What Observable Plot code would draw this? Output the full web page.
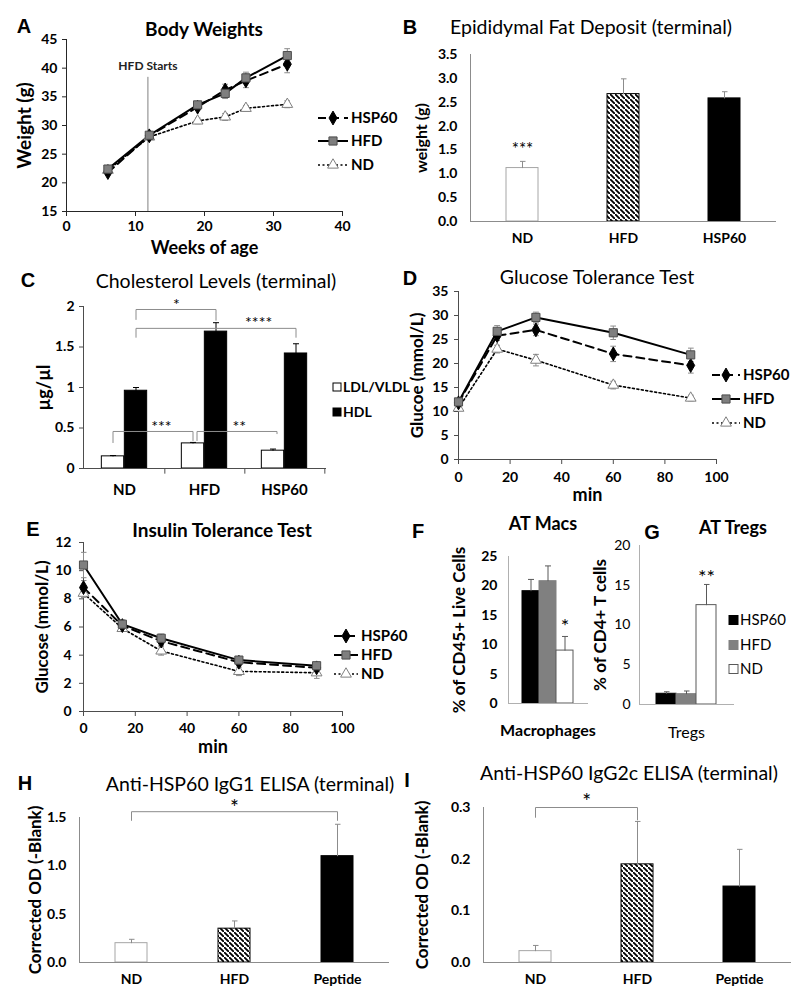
<!DOCTYPE html>
<html><head><meta charset="utf-8">
<script src="https://cdn.jsdelivr.net/npm/d3@7"></script>
<script src="https://cdn.jsdelivr.net/npm/@observablehq/plot@0.6"></script>
<style>
body{margin:0;background:#fff;}
#root{position:relative;width:800px;height:1007px;overflow:hidden;background:#fff;font-family:Lato,"Open Sans","DejaVu Sans",sans-serif;}
.t{position:absolute;white-space:nowrap;transform:translate(-50%,-50%);line-height:1;color:#000;}
.letter{font-family:"Liberation Sans",Arial,sans-serif;font-weight:bold;font-size:20px;}
</style></head><body>
<svg width="0" height="0" style="position:absolute"><defs>
<pattern id="hatch" patternUnits="userSpaceOnUse" width="5" height="5">
<rect width="5" height="5" fill="#fff"/>
<path d="M-1,-1 l2,2 M0,0 l5,5 M4,4 l2,2" stroke="#000" stroke-width="1.8"/>
</pattern></defs></svg>
<div id="root"></div>
<script>
// ---------------- DATA ----------------
// A: body weights
const weeks = [6, 12, 19, 23, 26, 32];
const bwHSP60 = [21.8, 28.2, 33.2, 36.2, 37.8, 40.7];
const bwHSP60Err = [0.3, 0.4, 0.5, 1.0, 1.2, 1.5];
const bwHFD = [22.4, 28.3, 33.6, 35.6, 38.3, 42.2];
const bwHFDErr = [0.3, 0.3, 0.5, 0.9, 1.0, 1.2];
const bwND = [22.2, 28.0, 30.8, 31.5, 33.0, 33.7];
const bwNDErr = [0.3, 0.3, 0.5, 0.6, 0.5, 0.6];
const hfdStart = {week: 11.8, lineTop: 38.4, labelY: 40.3, label: "HFD Starts"};
// B: epididymal fat
const dietGroups = ["ND", "HFD", "HSP60"];
const fatMean = [1.12, 2.67, 2.58];
const fatErr = [0.14, 0.32, 0.14];
const fatStars = [{g: "ND", label: "***"}];
// C: cholesterol
const cholGroups = ["ND", "HFD", "HSP60"];
const ldl = [0.15, 0.31, 0.22];
const ldlErr = [0.01, 0.012, 0.02];
const hdl = [0.96, 1.69, 1.42];
const hdlErr = [0.04, 0.11, 0.12];
const cholBrackets = [
  {from: "ND", to: "HFD", series: "HDL", top: 1.963, legFrom: 1.84, legTo: 1.83, label: "*"},
  {from: "ND", to: "HSP60", series: "HDL", top: 1.73, legFrom: 1.62, legTo: 1.62, label: "****"},
  {from: "ND", to: "HFD", series: "LDL", top: 0.457, legFrom: 0.32, legTo: 0.345, label: "***"},
  {from: "HFD", to: "HSP60", series: "LDL", top: 0.457, legFrom: 0.345, legTo: 0.43, label: "**"}
];
// D: glucose tolerance test
const gttMin = [0, 15, 30, 60, 90];
const gttHSP60 = [11.8, 25.8, 27.0, 22.0, 19.6];
const gttHSP60Err = [0.6, 1.0, 1.2, 1.6, 1.6];
const gttHFD = [12.0, 26.7, 29.6, 26.4, 21.8];
const gttHFDErr = [0.5, 1.2, 1.1, 1.4, 1.4];
const gttND = [10.7, 23.0, 20.7, 15.5, 12.8];
const gttNDErr = [0.5, 0.8, 1.2, 0.8, 0.6];
// E: insulin tolerance test
const ittMin = [0, 15, 30, 60, 90];
const ittHSP60 = [8.8, 6.1, 5.0, 3.5, 3.1];
const ittHSP60Err = [0.5, 0.3, 0.3, 0.2, 0.2];
const ittHFD = [10.4, 6.2, 5.2, 3.65, 3.25];
const ittHFDErr = [0.9, 0.3, 0.3, 0.2, 0.2];
const ittND = [8.4, 5.9, 4.3, 2.85, 2.75];
const ittNDErr = [0.3, 0.2, 0.3, 0.3, 0.4];
// F, G: adipose tissue cells
const cellGroups = ["HSP60", "HFD", "ND"];
const macs = [19.1, 20.8, 9.0];
const macsErr = [2.0, 2.6, 2.4];
const macsStars = [{g: "ND", label: "*"}];
const tregs = [1.35, 1.3, 12.5];
const tregsErr = [0.25, 0.4, 2.6];
const tregsStars = [{g: "ND", label: "**"}];
// H, I: ELISA
const elisaGroups = ["ND", "HFD", "Peptide"];
const igg1 = [0.20, 0.35, 1.10];
const igg1Err = [0.04, 0.08, 0.33];
const igg1Bracket = {from: "ND", to: "Peptide", top: 1.56, legFrom: 1.47, legTo: 1.47, label: "*"};
const igg2c = [0.022, 0.19, 0.147];
const igg2cErr = [0.011, 0.083, 0.072];
const igg2cBracket = {from: "ND", to: "HFD", top: 0.3, legFrom: 0.281, legTo: 0.276, label: "*"};

// ---------------- STYLE ----------------
const FONT = "Lato, 'Open Sans', 'DejaVu Sans', sans-serif";
const AX_DARK = "#4d4d4d";
const AX_GRAY = "#8c8c8c";
const ERR = "#8c8c8c";
const STY = {
  HSP60: {dash: "8,5", width: 2, symbol: "diamond", r: 4.2, fill: "#000", stroke: "#000"},
  HFD: {dash: null, width: 2, symbol: "square", r: 4.6, fill: "#7f7f7f", stroke: "#4d4d4d"},
  ND: {dash: "2,2.5", width: 1.6, symbol: "triangle", r: 4, fill: "#fff", stroke: "#7f7f7f"}
};
const SYMS = {HSP60: d3.symbolDiamond, HFD: d3.symbolSquare, ND: d3.symbolTriangle};
const DIET_FILL = {ND: "#fff", HFD: "url(#hatch)", HSP60: "#000", Peptide: "#000"};
const DIET_STROKE = {ND: "#a6a6a6", HFD: "#000", HSP60: "#000", Peptide: "#000"};
const CELL_FILL = {HSP60: "#000", HFD: "#808080", ND: "#fff"};
const CELL_STROKE = {HSP60: "#000", HFD: "#808080", ND: "#595959"};

const root = document.getElementById("root");

function makePlot(frame, opts, pad = [30, 40, 70, 90]) {
  const [x0, x1, y0, y1] = frame;
  const [mt, mr, mb, ml] = pad;
  const svg = Plot.plot({
    width: x1 - x0 + ml + mr,
    height: y1 - y0 + mt + mb,
    marginTop: mt, marginRight: mr, marginBottom: mb, marginLeft: ml,
    style: {background: "transparent", fontFamily: FONT, overflow: "visible", color: "#000"},
    ...opts
  });
  svg.style.position = "absolute";
  svg.style.left = (x0 - ml) + "px";
  svg.style.top = (y0 - mt) + "px";
  root.appendChild(svg);
  return svg;
}
function yTicksAxis(ticks, o = {}) {
  return Plot.axisY({ticks, tickSize: 4, tickPadding: 5, fontSize: 14, fontWeight: "bold", label: null, stroke: AX_DARK, fill: "#000", ...o});
}
function xTicksAxis(o = {}) {
  return Plot.axisX({tickSize: 5, tickPadding: 7, fontSize: 14, fontWeight: "bold", label: null, stroke: AX_DARK, fill: "#000", ...o});
}
function yLabelAxis(label, offset, o = {}) {
  return Plot.axisY({ticks: [], tickSize: 0, label, labelAnchor: "center", labelOffset: offset, labelArrow: "none", fontSize: 17, fontWeight: "bold", fill: "#000", ...o});
}
function xLabelAxis(label, offset, o = {}) {
  return Plot.axisX({ticks: [], tickSize: 0, label, labelAnchor: "center", labelOffset: offset, labelArrow: "none", fontSize: 18, fontWeight: "bold", fill: "#000", ...o});
}

// ---------- line panels ----------
function linePanel(p) {
  const rows = p.series.flatMap(s => p.xs.map((x, i) => ({series: s.name, x, y: s.values[i], err: s.err[i]})));
  const order = ["ND", "HSP60", "HFD"];
  const marks = [
    Plot.ruleX([p.xDomain[0]], {stroke: p.axis}),
    Plot.ruleY([p.yDomain[0]], {stroke: p.axis}),
    ...(p.extra || [])
  ];
  for (const n of order) {
    const r = rows.filter(d => d.series === n);
    marks.push(Plot.link(r, {x1: "x", x2: "x", y1: d => d.y - d.err, y2: d => d.y + d.err,
      stroke: ERR, strokeWidth: 1, markerStart: "tick", markerEnd: "tick"}));
  }
  for (const n of order) {
    const st = STY[n];
    const r = rows.filter(d => d.series === n);
    const o = {x: "x", y: "y", stroke: "#000", strokeWidth: st.width};
    if (st.dash) o.strokeDasharray = st.dash;
    marks.push(Plot.line(r, o));
  }
  for (const n of order) {
    const st = STY[n];
    const r = rows.filter(d => d.series === n);
    marks.push(Plot.dot(r, {x: "x", y: "y", symbol: st.symbol, r: st.r, fill: st.fill, stroke: st.stroke, strokeWidth: 1}));
  }
  marks.push(
    xTicksAxis({ticks: p.xTicks, tickPadding: p.xPad ?? 7, stroke: p.axis}),
    xLabelAxis(p.xLabel, p.xLabelOffset, {fontSize: p.xLabelSize ?? 18}),
    yTicksAxis(p.yTicks, {tickPadding: p.yPad ?? 5, stroke: p.axis}),
    yLabelAxis(p.yLabel, p.yLabelOffset, {fontSize: p.yLabelSize ?? 17})
  );
  makePlot(p.frame, {x: {domain: p.xDomain}, y: {domain: p.yDomain}, marks});
}

// A
linePanel({
  frame: [66, 342, 39, 211],
  xs: weeks,
  series: [
    {name: "HSP60", values: bwHSP60, err: bwHSP60Err},
    {name: "HFD", values: bwHFD, err: bwHFDErr},
    {name: "ND", values: bwND, err: bwNDErr}
  ],
  xDomain: [0, 40], yDomain: [15, 45],
  xTicks: [0, 10, 20, 30, 40], yTicks: [15, 20, 25, 30, 35, 40, 45],
  xLabel: "Weeks of age", xLabelOffset: 42, xLabelSize: 18, xPad: 5,
  yLabel: "Weight (g)", yLabelOffset: 49, yLabelSize: 19,
  axis: "#262626",
  extra: [
    Plot.ruleX([hfdStart], {x: "week", y1: 15, y2: "lineTop", stroke: "#808080", strokeWidth: 1}),
    Plot.text([hfdStart], {x: "week", y: "labelY", text: "label", fontSize: 12, fontWeight: "bold", fill: "#222"})
  ]
});

// D
linePanel({
  frame: [458, 716, 291, 459],
  xs: gttMin,
  series: [
    {name: "HSP60", values: gttHSP60, err: gttHSP60Err},
    {name: "HFD", values: gttHFD, err: gttHFDErr},
    {name: "ND", values: gttND, err: gttNDErr}
  ],
  xDomain: [0, 100], yDomain: [0, 35],
  xTicks: [0, 20, 40, 60, 80, 100], yTicks: [0, 5, 10, 15, 20, 25, 30, 35],
  xLabel: "min", xLabelOffset: 41, yLabel: "Glucoe (mmol/L)", yLabelOffset: 48,
  xPad: 8, yPad: 6, axis: AX_DARK
});

// E
linePanel({
  frame: [83, 342, 542, 711],
  xs: ittMin,
  series: [
    {name: "HSP60", values: ittHSP60, err: ittHSP60Err},
    {name: "HFD", values: ittHFD, err: ittHFDErr},
    {name: "ND", values: ittND, err: ittNDErr}
  ],
  xDomain: [0, 100], yDomain: [0, 12],
  xTicks: [0, 20, 40, 60, 80, 100], yTicks: [0, 2, 4, 6, 8, 10, 12],
  xLabel: "min", xLabelOffset: 41, yLabel: "Glucose (mmol/L)", yLabelOffset: 48,
  xPad: 7, yPad: 8, axis: AX_DARK
});

// ---------- bar helpers ----------
function barsFor(groups, vals, fills, strokes, o = {}) {
  return groups.map((g, i) => Plot.barY([{g, v: vals[i]}], {x: "g", y: "v", fill: fills[g], stroke: strokes[g], strokeWidth: 1, ...o}));
}
function errUp(groups, vals, errs, color, o = {}) {
  const rows = groups.map((g, i) => ({g, lo: vals[i], hi: vals[i] + errs[i]}));
  return Plot.link(rows, {x1: "g", x2: "g", y1: "lo", y2: "hi", stroke: color, strokeWidth: 1, markerEnd: "tick", ...o});
}
function starsFor(stars, groups, vals, errs, o = {}) {
  const rows = stars.map(s => { const i = groups.indexOf(s.g); return {g: s.g, y: vals[i] + errs[i], label: s.label}; });
  return Plot.text(rows, {x: "g", y: "y", text: "label", fontSize: 16, fill: "#000", ...o});
}
function bracketMarks(b, groups, bw, sdx = 0, o = {}) {
  const pts = [{g: b.from, y: b.legFrom}, {g: b.from, y: b.top}, {g: b.to, y: b.top}, {g: b.to, y: b.legTo}];
  const span = (groups.indexOf(b.to) - groups.indexOf(b.from)) * bw;
  return [
    Plot.line(pts, {x: "g", y: "y", stroke: "#8c8c8c", strokeWidth: 1, dx: sdx, curve: "linear"}),
    Plot.text([b], {x: "from", y: "top", text: "label", fill: "#000", dx: sdx + span / 2 + (o.shift || 0), dy: o.dy ?? -5, fontSize: o.fontSize ?? 16})
  ];
}

// B
makePlot([470, 775, 54, 221], {
  x: {domain: dietGroups, paddingInner: 0.685, paddingOuter: 0.3425},
  y: {domain: [0, 3.5]},
  marks: [
    ...barsFor(dietGroups, fatMean, DIET_FILL, DIET_STROKE),
    errUp(dietGroups, fatMean, fatErr, ERR),
    starsFor(fatStars, dietGroups, fatMean, fatErr, {dy: -12, fontSize: 17}),
    Plot.frame({anchor: "left", stroke: AX_GRAY}),
    Plot.frame({anchor: "bottom", stroke: AX_GRAY}),
    yTicksAxis([0, 0.5, 1, 1.5, 2, 2.5, 3, 3.5], {tickFormat: ".1f", tickSize: 0, tickPadding: 13}),
    yLabelAxis("weight (g)", 55, {fontSize: 16}),
    xTicksAxis({tickSize: 0, tickPadding: 12})
  ]
});

// C
{
  const frame = [83, 325, 306, 468];
  const bw = (frame[1] - frame[0]) / cholGroups.length;
  const barW = 23;
  const off = {LDL: -barW / 2, HDL: barW / 2};
  makePlot(frame, {
    x: {domain: cholGroups, padding: 0},
    y: {domain: [0, 2]},
    marks: [
      ...barsFor(cholGroups, ldl, {ND: "#fff", HFD: "#fff", HSP60: "#fff"}, {ND: "#000", HFD: "#000", HSP60: "#000"}, {insetLeft: bw / 2 - barW, insetRight: bw / 2}),
      ...barsFor(cholGroups, hdl, {ND: "#000", HFD: "#000", HSP60: "#000"}, {ND: "#000", HFD: "#000", HSP60: "#000"}, {insetLeft: bw / 2, insetRight: bw / 2 - barW}),
      errUp(cholGroups, ldl, ldlErr, "#000", {dx: off.LDL}),
      errUp(cholGroups, hdl, hdlErr, "#000", {dx: off.HDL}),
      ...cholBrackets.flatMap((b, i) => bracketMarks(b, cholGroups, bw, off[b.series] + [0, 0, 0, 4][i], {shift: [0, 42, 8, 2][i], dy: -5, fontSize: 16})),
      Plot.frame({anchor: "left", stroke: AX_DARK}),
      Plot.frame({anchor: "bottom", stroke: AX_DARK}),
      Plot.ruleX(cholGroups, {x: d => d, dx: bw / 2, y1: 0, y2: -0.07, stroke: AX_DARK}),
      yTicksAxis([0, 0.5, 1, 1.5, 2], {tickFormat: "~g", tickSize: 4, tickPadding: 5}),
      yLabelAxis("µg/µl", 46, {fontSize: 18}),
      xTicksAxis({tickSize: 0, tickPadding: 16, fontSize: 15})
    ]
  });
}

// F
makePlot([508, 587, 556, 703], {
  x: {domain: cellGroups, paddingInner: 0, paddingOuter: 0.735},
  y: {domain: [0, 25]},
  marks: [
    ...barsFor(cellGroups, macs, CELL_FILL, CELL_STROKE),
    errUp(cellGroups, macs, macsErr, "#595959"),
    starsFor(macsStars, cellGroups, macs, macsErr, {dy: -10, fontSize: 20}),
    Plot.frame({anchor: "left", stroke: "#b0b0b0"}),
    Plot.frame({anchor: "bottom", stroke: "#b0b0b0"}),
    yTicksAxis([0, 5, 10, 15, 20, 25], {tickSize: 0, tickPadding: 11}),
    yLabelAxis("% of CD45+ Live Cells", 56, {fontSize: 17}),
    xLabelAxis("Macrophages", 32, {fontSize: 16})
  ]
});

// G
makePlot([639, 733, 545, 704], {
  x: {domain: cellGroups, paddingInner: 0, paddingOuter: 0.77},
  y: {domain: [0, 20]},
  marks: [
    ...barsFor(cellGroups, tregs, CELL_FILL, CELL_STROKE),
    errUp(cellGroups, tregs, tregsErr, "#595959"),
    starsFor(tregsStars, cellGroups, tregs, tregsErr, {dy: -7, fontSize: 20}),
    Plot.frame({anchor: "left", stroke: "#b0b0b0"}),
    Plot.frame({anchor: "bottom", stroke: "#b0b0b0"}),
    yTicksAxis([0, 5, 10, 15, 20], {tickSize: 0, tickPadding: 9, fontWeight: "normal"}),
    yLabelAxis("% of CD4+ T cells", 46, {fontSize: 17}),
    xLabelAxis("Tregs", 33, {fontSize: 16, fontWeight: "normal"})
  ]
});

// H
{
  const frame = [79, 388, 817, 962];
  const step = (frame[1] - frame[0]) / elisaGroups.length;
  makePlot(frame, {
    x: {domain: elisaGroups, paddingInner: 0.69, paddingOuter: 0.345},
    y: {domain: [0, 1.5]},
    marks: [
      ...barsFor(elisaGroups, igg1, DIET_FILL, DIET_STROKE),
      errUp(elisaGroups, igg1, igg1Err, ERR),
      ...bracketMarks(igg1Bracket, elisaGroups, step, 0, {dy: -3, fontSize: 21}),
      Plot.frame({anchor: "left", stroke: AX_GRAY}),
      Plot.frame({anchor: "bottom", stroke: AX_GRAY}),
      yTicksAxis([0, 0.5, 1, 1.5], {tickFormat: ".1f", tickSize: 0, tickPadding: 13}),
      yLabelAxis("Corrected OD (-Blank)", 51, {fontSize: 17}),
      xTicksAxis({tickSize: 0, tickPadding: 12})
    ]
  });
}

// I
{
  const frame = [483, 790, 807, 962];
  const step = (frame[1] - frame[0]) / elisaGroups.length;
  makePlot(frame, {
    x: {domain: elisaGroups, paddingInner: 0.69, paddingOuter: 0.345},
    y: {domain: [0, 0.3]},
    marks: [
      ...barsFor(elisaGroups, igg2c, DIET_FILL, DIET_STROKE),
      errUp(elisaGroups, igg2c, igg2cErr, ERR),
      ...bracketMarks(igg2cBracket, elisaGroups, step, 0, {dy: -5, fontSize: 21}),
      Plot.frame({anchor: "left", stroke: AX_GRAY}),
      Plot.frame({anchor: "bottom", stroke: AX_GRAY}),
      yTicksAxis([0, 0.1, 0.2, 0.3], {tickFormat: ".1f", tickSize: 0, tickPadding: 13}),
      yLabelAxis("Corrected OD (-Blank)", 68, {fontSize: 17}),
      xTicksAxis({tickSize: 0, tickPadding: 12})
    ]
  });
}

// ---------- titles, panel letters ----------
const texts = [
  ["A", 24, 26, "letter"], ["B", 410, 27, "letter"], ["C", 28, 280, "letter"], ["D", 410, 278, "letter"],
  ["E", 33, 529, "letter"], ["F", 418, 531, "letter"], ["G", 652, 532, "letter"], ["H", 25, 783, "letter"], ["I", 407, 780, "letter"],
  ["Body Weights", 204, 28, "bold", 19],
  ["Epididymal Fat Deposit (terminal)", 591, 27, "normal", 19.5],
  ["Cholesterol Levels (terminal)", 216, 281, "normal", 19.5],
  ["Glucose Tolerance Test", 597, 277, "normal", 19.5],
  ["Insulin Tolerance Test", 222, 529, "bold", 19],
  ["AT Macs", 543, 523, "bold", 18],
  ["AT Tregs", 733, 527, "bold", 18],
  ["Anti-HSP60 IgG1 ELISA (terminal)", 250, 784, "normal", 19.5],
  ["Anti-HSP60 IgG2c ELISA (terminal)", 629, 773, "normal", 19.5]
];
for (const [s, x, y, kind, size] of texts) {
  const d = document.createElement("div");
  d.className = "t" + (kind === "letter" ? " letter" : "");
  d.textContent = s;
  d.style.left = x + "px";
  d.style.top = y + "px";
  if (kind !== "letter") { d.style.fontSize = size + "px"; d.style.fontWeight = kind; }
  root.appendChild(d);
}

// ---------- legends ----------
function lineLegend(x0, x1, tx, ys, fs) {
  return ["HSP60", "HFD", "ND"].map((n, i) => {
    const st = STY[n], y = ys[i], xm = (x0 + x1) / 2;
    const sym = d3.symbol(SYMS[n], Math.PI * st.r * st.r)();
    return `<line x1="${x0}" x2="${x1}" y1="${y}" y2="${y}" stroke="#000" stroke-width="${st.width}" ${st.dash ? `stroke-dasharray="${st.dash}"` : ""}/>` +
      `<path d="${sym}" transform="translate(${xm},${y})" fill="${st.fill}" stroke="${st.stroke}"/>` +
      `<text x="${tx}" y="${y}" dy="0.36em" font-size="${fs}" font-weight="bold">${n}</text>`;
  }).join("");
}
function boxLegend(x, tx, ys, names, fills, strokes, fs, fw, size) {
  return names.map((n, i) =>
    `<rect x="${x}" y="${ys[i] - size / 2}" width="${size}" height="${size}" fill="${fills[i]}" stroke="${strokes[i]}"/>` +
    `<text x="${tx}" y="${ys[i]}" dy="0.36em" font-size="${fs}" font-weight="${fw}">${n}</text>`).join("");
}
const leg = document.createElementNS("http://www.w3.org/2000/svg", "svg");
leg.setAttribute("width", 800); leg.setAttribute("height", 1007);
leg.setAttribute("style", `position:absolute;left:0;top:0;font-family:${FONT};pointer-events:none`);
leg.innerHTML =
  lineLegend(318, 348, 351, [118, 141, 165], 15) +
  lineLegend(712, 740, 743, [375, 399, 423], 15) +
  lineLegend(334, 358, 361, [636, 655, 674], 15) +
  boxLegend(333, 343, [387, 412], ["LDL/VLDL", "HDL"], ["#fff", "#000"], ["#000", "#000"], 14, "bold", 8) +
  boxLegend(729, 740, [620, 645, 669], ["HSP60", "HFD", "ND"], ["#000", "#808080", "#fff"], ["#000", "#808080", "#595959"], 15, "normal", 9);
root.appendChild(leg);
</script></body></html>
